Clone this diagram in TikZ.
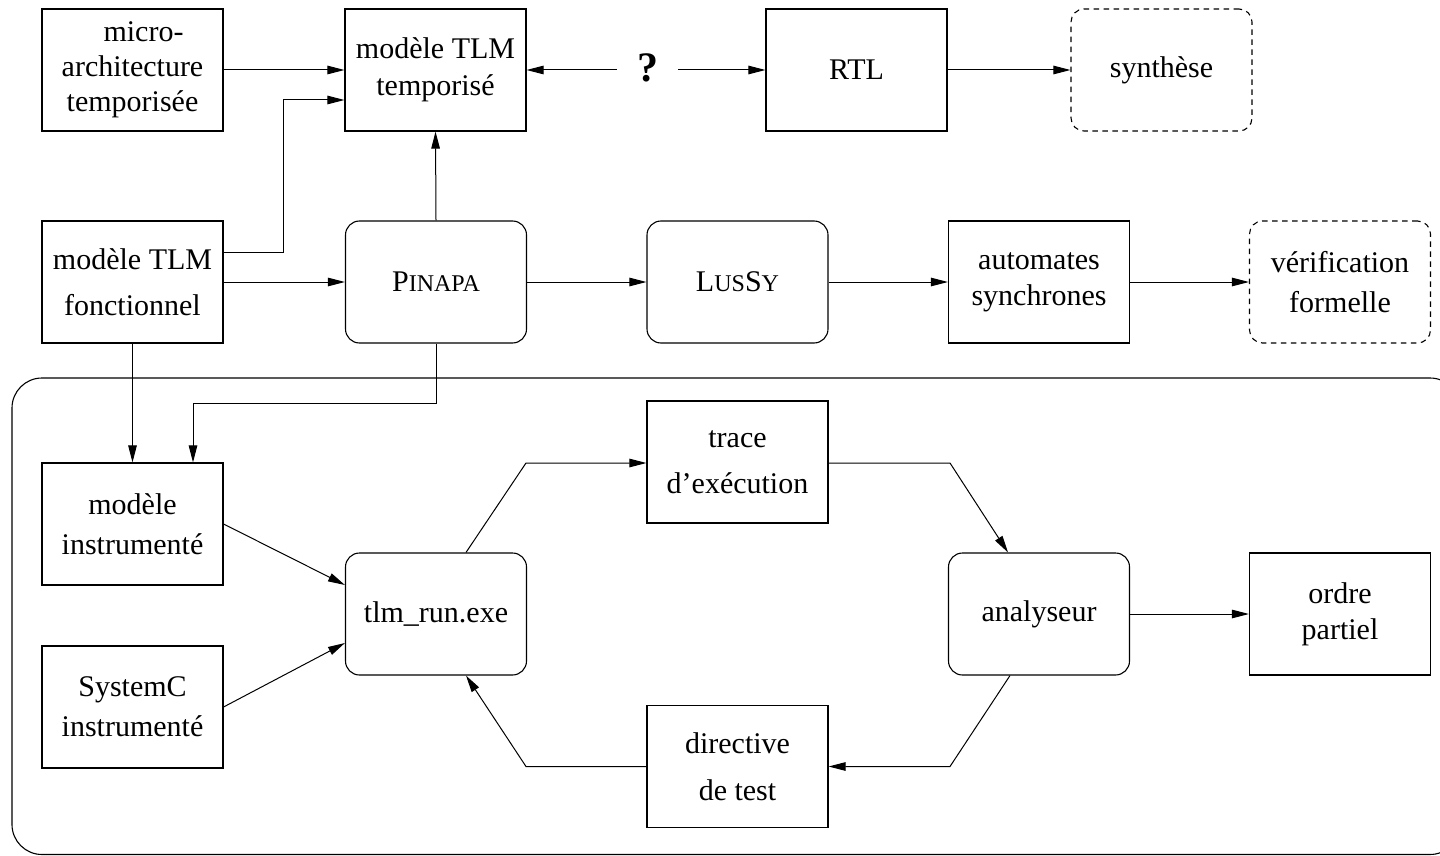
\documentclass[tikz,border=0pt]{standalone}
\usepackage{fontspec}
\setmainfont{Liberation Serif}
\usetikzlibrary{arrows.meta}
% small capitals faked by a reduced size of upper-case letters
\newcommand{\smcap}[1]{{\fontsize{12pt}{20pt}\selectfont #1}}

\begin{document}
\begin{tikzpicture}[x=0.5pt,y=-0.5pt,
  every node/.style={font=\fontsize{15pt}{20pt}\selectfont, align=center},
  box/.style={draw, line width=0.55pt, minimum width=90.5pt, minimum height=61pt, inner sep=0pt},
  rbox/.style={box, rounded corners=7pt},
  dbox/.style={box, rounded corners=6.5pt, dash pattern=on 2.75pt off 2.25pt},
  tbox/.style={box, line width=1.05pt},
  conn/.style={line width=0.5pt, -{Triangle[length=8.5pt,width=4.25pt]}},
  frame/.style={line width=0.55pt, rounded corners=15pt}]

\useasboundingbox (0,0) rectangle (1440,856);

% enclosing frame of the test loop
\draw[frame] (12,378) rectangle (1460,854.5);

% first row
\node[box]  (micro) at (132.5,70) {\hspace*{11pt}micro-\\[-2.5pt]architecture\\[-2.5pt]temporisée};
\node[box]  (temp)  at (435.5,70) {modèle TLM\\[-1.5pt]temporisé};
\node[inner xsep=10pt, inner ysep=0pt, font=\fontsize{21pt}{24pt}\selectfont\bfseries] (q) at (647.5,67.5) {?};
\node[box]  (rtl)   at (856.5,70) {RTL};
\node[dbox] (synth) at (1161.5,70) {synthèse};

% second row
\node[tbox] (fonct)  at (132.5,282) {modèle TLM\\[3pt]fonctionnel};
\node[rbox] (pinapa) at (436,282) {P\smcap{INAPA}};
\node[rbox] (lussy)  at (737.5,282) {L\smcap{US}S\smcap{Y}};
\node[box]  (auto)   at (1039,282) {automates\\[-2pt]synchrones};
\node[dbox] (verif)  at (1340,282) {vérification\\formelle};

% test loop
\node[box]  (inst)  at (132.5,524) {modèle\\instrumenté};
\node[box]  (sysc)  at (132.5,707) {SystemC\\instrumenté};
\node[rbox] (tlm)   at (436,614) {tlm\_run.exe};
\node[box]  (trace) at (737.5,462) {trace\\[3pt]d’exécution};
\node[box]  (direc) at (737.5,766.5) {directive\\[3.5pt]de test};
\node[rbox] (anal)  at (1039,614) {analyseur};
\node[box]  (ordre) at (1340,614) {ordre\\[-2pt]partiel};

% connectors of the first row
\draw[conn] (micro.east) -- (temp.west);
\draw[conn] (fonct.east |- 0,252) -| (283,100) -- (temp.west |- 0,100);
\draw[conn] (q.west |- temp.east) -- (temp.east);
\draw[conn] (q.east |- rtl.west) -- (rtl.west);
\draw[conn] (rtl.east) -- (synth.west);
\draw[conn] (pinapa.north) -- (temp.south);

% connectors of the second row
\draw[conn] (fonct.east) -- (pinapa.west);
\draw[conn] (pinapa.east) -- (lussy.west);
\draw[conn] (lussy.east) -- (auto.west);
\draw[conn] (auto.east) -- (verif.west);

% into the test loop
\draw[conn] (fonct.south) -- (inst.north);
\draw[conn] (pinapa.south) |- (193,403) -- (193,0 |- inst.north);

% the test loop
\draw[conn] (inst.east) -- (tlm.west |- 0,585);
\draw[conn] (sysc.east) -- (tlm.west |- 0,643);
\draw[conn] (tlm.north -| 466,0) -- (526,463) -- (trace.west |- 0,463);
\draw[conn] (trace.east |- 0,463) -- (950,463) -- (anal.north -| 1008,0);
\draw[conn] (anal.south -| 1010,0) -- (950,766.5) -- (direc.east);
\draw[conn] (direc.west) -- (526,766.5) -- (tlm.south -| 466,0);
\draw[conn] (anal.east) -- (ordre.west);
\end{tikzpicture}
\end{document}
